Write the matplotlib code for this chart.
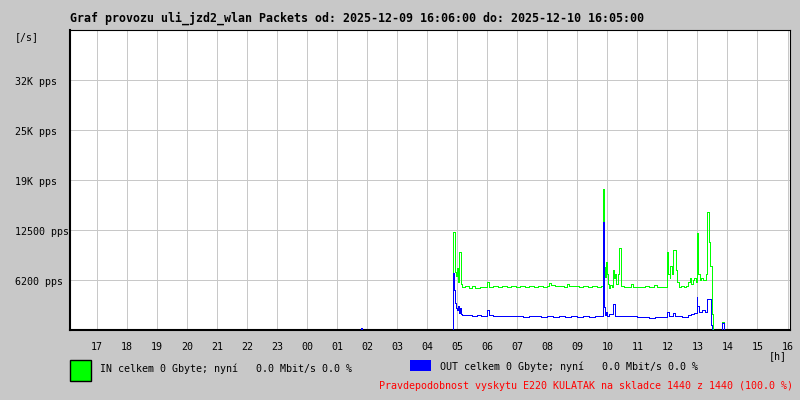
import matplotlib
matplotlib.use("Agg")
import matplotlib.pyplot as plt
import matplotlib.transforms as mtransforms
from matplotlib.patches import Rectangle

'''
Packet traffic graph, uli_jzd2_wlan, 2025-12-09 16:06 .. 2025-12-10 16:05
time axis in hours counted from 00:00 of 2025-12-09 (so 28.5 = 04:30 next day)
'''

title = "Graf provozu uli_jzd2_wlan Packets od: 2025-12-09 16:06:00 do: 2025-12-10 16:05:00"
in_legend = "IN celkem 0 Gbyte; nyní   0.0 Mbit/s 0.0 %"
out_legend = "OUT celkem 0 Gbyte; nyní   0.0 Mbit/s 0.0 %"
footer = "Pravdepodobnost vyskytu E220 KULATAK na skladce 1440 z 1440 (100.0 %)"

t_start, t_end = 16.1, 40.083
hour_ticks = list(range(17, 41))
hour_labels = ["%02d" % (h % 24) for h in hour_ticks]
y_ticks = [6250, 12500, 18750, 25000, 31250]
y_labels = ["6200 pps", "12500 pps", "19K pps", "25K pps", "32K pps"]
y_max = 37500

# IN packets/s
in_t = [16.10, 28.83, 28.85, 28.87, 28.90, 28.93, 28.97, 29.00, 29.03, 29.07,
        29.10, 29.13, 29.17, 29.27, 29.40, 29.50, 29.60, 29.75, 29.90, 30.00,
        30.07, 30.20, 30.35, 30.50, 30.65, 30.80, 30.95, 31.10, 31.25, 31.40,
        31.55, 31.70, 31.85, 32.00, 32.07, 32.13, 32.25, 32.40, 32.55, 32.67,
        32.73, 32.90, 33.05, 33.20, 33.35, 33.50, 33.65, 33.78, 33.85, 33.90,
        33.93, 33.97, 34.00, 34.03, 34.07, 34.10, 34.17, 34.20, 34.23, 34.27,
        34.30, 34.37, 34.40, 34.47, 34.55, 34.70, 34.80, 34.85, 34.95, 35.10,
        35.25, 35.40, 35.50, 35.55, 35.65, 35.80, 35.93, 35.97, 36.00, 36.03,
        36.07, 36.10, 36.15, 36.20, 36.27, 36.30, 36.33, 36.37, 36.45, 36.55,
        36.63, 36.70, 36.75, 36.80, 36.85, 36.90, 36.95, 37.00, 37.03, 37.07,
        37.13, 37.20, 37.27, 37.33, 37.40, 37.43, 37.47, 37.50, 37.53, 37.83,
        37.87, 40.08]
in_v = [0, 0, 3000, 12300, 12300, 7200, 6800, 7800, 6000, 9800,
        9800, 5800, 5400, 5500, 5300, 5450, 5300, 5400, 5350, 6000,
        5400, 5500, 5350, 5450, 5400, 5500, 5400, 5450, 5350, 5500,
        5400, 5450, 5400, 5500, 5900, 5600, 5450, 5500, 5400, 5800,
        5500, 5450, 5400, 5500, 5400, 5450, 5400, 5500, 17600, 7900,
        6600, 8500, 7000, 5800, 5200, 5600, 5400, 7500, 6500, 7000,
        5800, 7000, 10200, 5500, 5400, 5350, 5700, 5400, 5350, 5400,
        5450, 5350, 5400, 5600, 5350, 5400, 5400, 7500, 9800, 7000,
        6500, 8000, 7000, 10000, 9800, 7500, 6000, 5400, 5450, 5400,
        5450, 6000, 6500, 5800, 6200, 6500, 6000, 12100, 7000, 6300,
        6500, 6200, 7000, 14800, 11000, 8000, 5000, 2000, 0, 1040,
        0, 0]

# OUT packets/s
out_t = [16.10, 25.80, 25.83, 28.83, 28.85, 28.87, 28.90, 28.93, 28.97, 29.00,
         29.03, 29.07, 29.10, 29.13, 29.17, 29.35, 29.50, 29.65, 29.80, 30.00,
         30.05, 30.20, 30.40, 30.60, 30.80, 31.00, 31.20, 31.40, 31.60, 31.80,
         32.00, 32.20, 32.40, 32.60, 32.80, 33.00, 33.20, 33.40, 33.60, 33.80,
         33.85, 33.90, 33.93, 33.97, 34.00, 34.07, 34.20, 34.27, 34.40, 34.60,
         34.80, 35.00, 35.20, 35.40, 35.60, 35.80, 36.00, 36.05, 36.20, 36.25,
         36.30, 36.50, 36.70, 36.80, 36.90, 36.97, 37.00, 37.05, 37.15, 37.25,
         37.33, 37.45, 37.50, 37.83, 37.87, 40.08]
out_v = [0, 250, 0, 0, 800, 7100, 5000, 3400, 2800, 2500,
         3000, 2100, 2700, 2000, 1850, 1900, 1800, 1850, 1800, 2500,
         1850, 1800, 1750, 1800, 1700, 1750, 1650, 1700, 1750, 1650,
         1700, 1650, 1700, 1600, 1700, 1650, 1700, 1650, 1700, 1700,
         13500, 2900, 1900, 2200, 1800, 2000, 3300, 1750, 1800, 1750,
         1800, 1650, 1600, 1550, 1600, 1650, 2200, 1700, 2100, 1800,
         1700, 1650, 1900, 2000, 2100, 4160, 3000, 2300, 2500, 2200,
         3840, 625, 0, 830, 0, 0]

bg = "#c8c8c8"
mono = "DejaVu Sans Mono"
small = 7.2

fig = plt.figure(figsize=(8, 4), dpi=100, facecolor=bg)
ax = fig.add_axes([70 / 800, 70 / 400, 720 / 800, 300 / 400])
ax.set_facecolor("white")

ax.plot(in_t, in_v, color="#00ff00", lw=0.72, drawstyle="steps-post", antialiased=False, zorder=3)
ax.plot(out_t, out_v, color="#0000ff", lw=0.72, drawstyle="steps-post", antialiased=False, zorder=4)

ax.set_xlim(t_start, t_end)
ax.set_ylim(0, y_max)
ax.set_xticks(hour_ticks)
ax.set_xticklabels(hour_labels, fontfamily=mono, fontsize=small)
ax.set_yticks(y_ticks)
ax.set_yticklabels([])
ax.tick_params(axis="both", length=0)
ax.tick_params(axis="x", pad=9)
ax.grid(True, color=bg, lw=0.72, antialiased=False)
ax.set_axisbelow(True)

for side in ["left", "bottom"]:
    ax.spines[side].set_linewidth(1.5)
for side in ["top", "right"]:
    ax.spines[side].set_linewidth(0.8)

# y labels are left aligned at the figure edge
trans = mtransforms.blended_transform_factory(fig.transFigure, ax.transData)
for val, lab in zip(y_ticks, y_labels):
    ax.text(15 / 800, val - 250, lab, transform=trans, ha="left", va="center",
            fontfamily=mono, fontsize=small, clip_on=False)
fig.text(15 / 800, 1 - 37 / 400, "[/s]", ha="left", va="center", fontfamily=mono, fontsize=small)
fig.text(787 / 800, 1 - 356 / 400, "[h]", ha="right", va="center", fontfamily=mono, fontsize=small)

fig.text(70 / 800, 1 - 18.5 / 400, title, ha="left", va="center", fontfamily=mono,
         fontsize=8.4, fontweight="bold")

# legend
fig.patches.append(Rectangle((70 / 800, 1 - 381 / 400), 21 / 800, 21 / 400, transform=fig.transFigure,
                             facecolor="#00ff00", edgecolor="black", lw=1.0))
fig.text(100 / 800, 1 - 369 / 400, in_legend, ha="left", va="center", fontfamily=mono, fontsize=small)
fig.patches.append(Rectangle((410 / 800, 1 - 371 / 400), 21 / 800, 11 / 400, transform=fig.transFigure,
                             facecolor="#0000ff", edgecolor="none"))
fig.text(440 / 800, 1 - 367 / 400, out_legend, ha="left", va="center", fontfamily=mono, fontsize=small)
fig.text(793 / 800, 1 - 386 / 400, footer, ha="right", va="center", fontfamily=mono,
         fontsize=small, color="#ff0000")

fig.savefig("out.png", dpi=100, facecolor=bg)
